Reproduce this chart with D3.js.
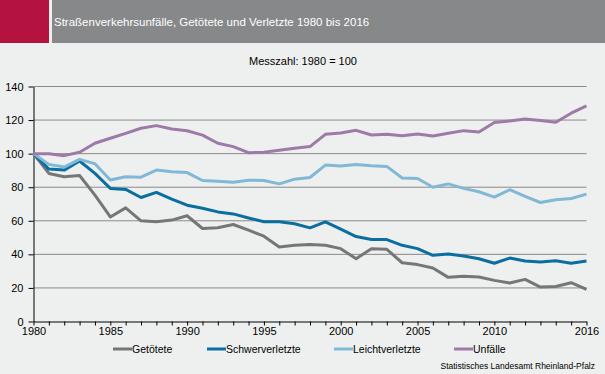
<!DOCTYPE html>
<html>
<head>
<meta charset="utf-8">
<script src="https://cdn.jsdelivr.net/npm/d3@7"></script>
<style>
	html, body { margin: 0; padding: 0; background: #eef0ef; }
	svg { display: block; font-family: 'Liberation Sans', Arial, sans-serif; }
</style>
</head>
<body>
<svg id="chart"></svg>
<script>
const WIDTH = 605;
const HEIGHT = 374;

const years = d3.range(1980, 2017);
const yearLabels = [1980, 1985, 1990, 1995, 2000, 2005, 2010, 2016];
const yTicks = [0, 20, 40, 60, 80, 100, 120, 140];

const seriesNames = ['Getötete', 'Schwerverletzte', 'Leichtverletzte', 'Unfälle'];
const seriesColors = ['#767676', '#0a6fa0', '#80b8d6', '#9e7aa8'];

const getoetete = [100, 88.2, 86.2, 87, 75.3, 62.3, 67.7, 60, 59.4, 60.4, 63, 55.4, 55.8, 57.8, 54.4, 50.8, 44.4, 45.4, 45.8, 45.4, 43.4, 37.4, 43.4, 43, 35, 33.9, 31.9, 26.3, 26.9, 26.5, 24.5, 22.9, 25.1, 20.5, 20.9, 23.1, 19.1];
const schwerverletzte = [100, 90.8, 90.2, 95.6, 88.2, 79.3, 78.7, 73.9, 76.9, 72.9, 69.3, 67.5, 65.3, 64.1, 61.7, 59.4, 59.4, 58.2, 55.8, 59.4, 55, 50.6, 48.8, 48.8, 45.4, 43.4, 39.4, 40.2, 39, 37.4, 34.7, 37.8, 36, 35.5, 36.2, 34.7, 36];
const leichtverletzte = [100, 93.6, 92, 96.6, 94, 84.3, 86.2, 86, 90.2, 89.2, 88.7, 84, 83.6, 82.9, 84.2, 84, 82, 84.8, 85.8, 93.2, 92.6, 93.6, 92.8, 92.4, 85.5, 85.2, 80, 82, 79.3, 77.3, 74.1, 78.5, 74.5, 70.9, 72.5, 73.3, 75.9];
const unfaelle = [100, 100, 98.8, 100.8, 106.2, 109.2, 112.1, 115.1, 116.7, 114.7, 113.6, 111, 106.2, 104.2, 100.6, 100.8, 102, 103.2, 104.2, 111.5, 112.3, 113.9, 111.1, 111.5, 110.6, 111.7, 110.5, 112.1, 113.7, 112.9, 118.5, 119.5, 120.7, 119.7, 118.7, 124.1, 128.5];

const seriesValues = [getoetete, schwerverletzte, leichtverletzte, unfaelle];

const svg = d3.select('#chart')
	.attr('width', WIDTH)
	.attr('height', HEIGHT);

svg.append('rect')
	.attr('width', WIDTH)
	.attr('height', HEIGHT)
	.attr('fill', '#eef0ef');

// header band
svg.append('rect')
	.attr('x', 0)
	.attr('y', 0)
	.attr('width', 49)
	.attr('height', 43)
	.attr('fill', '#b5133f');
svg.append('rect')
	.attr('x', 52)
	.attr('y', 0)
	.attr('width', WIDTH - 52)
	.attr('height', 43)
	.attr('fill', '#878889');
svg.append('text')
	.attr('x', 54)
	.attr('y', 25.5)
	.attr('fill', '#ffffff')
	.style('font-size', '11.5px')
	.text('Straßenverkehrsunfälle, Getötete und Verletzte 1980 bis 2016');

svg.append('text')
	.attr('x', 303)
	.attr('y', 64.5)
	.attr('text-anchor', 'middle')
	.attr('fill', '#000')
	.style('font-size', '11px')
	.text('Messzahl: 1980 = 100');

const x = d3.scaleLinear().domain([1980, 2016]).range([33.5, 586.5]);
const y = d3.scaleLinear().domain([0, 140]).range([321.5, 86.5]);

// grid
svg.append('g')
	.selectAll('line')
	.data(yTicks.filter((d) => d > 0))
	.enter()
	.append('line')
	.attr('x1', x(1980))
	.attr('x2', x(2016))
	.attr('y1', (d) => y(d))
	.attr('y2', (d) => y(d))
	.attr('stroke', '#8a8a8a')
	.attr('stroke-width', 1);

// axes
const yAxis = svg.append('g')
	.attr('transform', `translate(${x(1980)},0)`)
	.call(d3.axisLeft(y).tickValues(yTicks).tickSize(5).tickSizeOuter(0));
const xAxis = svg.append('g')
	.attr('transform', `translate(0,${y(0)})`)
	.call(d3.axisBottom(x)
		.tickValues(years)
		.tickSize(4)
		.tickSizeOuter(0)
		.tickFormat((d) => (yearLabels.includes(d) ? d : '')));

[yAxis, xAxis].forEach((axis) => {
	axis.selectAll('path, line').attr('stroke', '#000');
	axis.selectAll('text')
		.attr('fill', '#000')
		.style('font-family', "'Liberation Sans', Arial, sans-serif")
		.style('font-size', '11px');
});
yAxis.selectAll('text').attr('x', -10);
xAxis.selectAll('text').attr('y', 6);

// lines
const line = d3.line()
	.x((d, i) => x(years[i]))
	.y((d) => y(d));

svg.append('g')
	.selectAll('path')
	.data(seriesValues)
	.enter()
	.append('path')
	.attr('d', (d) => line(d))
	.attr('fill', 'none')
	.attr('stroke', (d, i) => seriesColors[i])
	.attr('stroke-width', 3)
	.attr('stroke-linejoin', 'round');

// legend
const legendX = [113, 207, 334, 454];
const legend = svg.append('g')
	.selectAll('g')
	.data(seriesNames)
	.enter()
	.append('g')
	.attr('transform', (d, i) => `translate(${legendX[i]},349)`);
legend.append('line')
	.attr('x1', 0)
	.attr('x2', 19)
	.attr('stroke', (d, i) => seriesColors[i])
	.attr('stroke-width', 3);
legend.append('text')
	.attr('x', 19)
	.attr('y', 4)
	.attr('fill', '#000')
	.style('font-size', '10.5px')
	.text((d) => d);

svg.append('text')
	.attr('x', 595)
	.attr('y', 369)
	.attr('text-anchor', 'end')
	.attr('fill', '#000')
	.style('font-size', '8.5px')
	.text('Statistisches Landesamt Rheinland-Pfalz');
</script>
</body>
</html>
